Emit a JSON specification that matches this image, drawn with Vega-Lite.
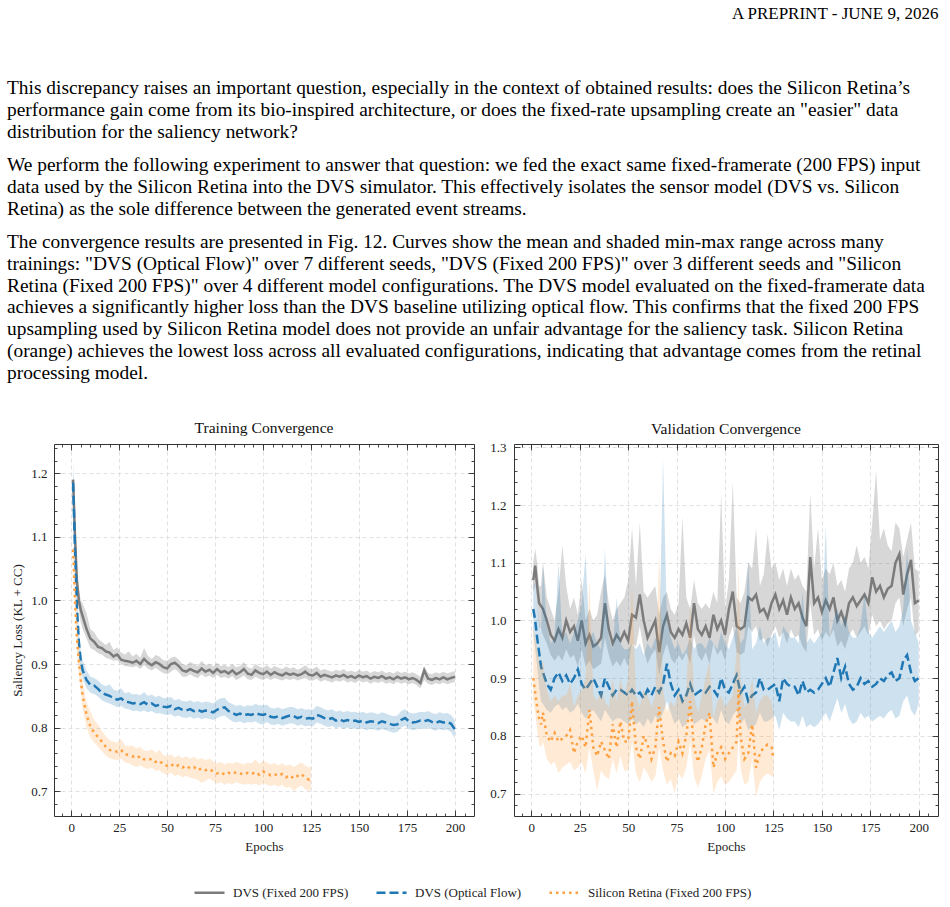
{
"$schema": "https://vega.github.io/schema/vega-lite/v6.json",
"padding": {"left": 7, "right": 10, "top": 5, "bottom": 5},
"background": "white",
"title": {"text": "A PREPRINT - JUNE 9, 2026", "anchor": "end", "fontSize": 17, "font": "Liberation Serif", "fontWeight": "normal", "color": "#000", "offset": 55},
"config": {
  "view": {"stroke": null},
  "title": {"font": "Liberation Serif", "fontWeight": "normal", "color": "#111"},
  "axis": {"labelFont": "Liberation Serif", "titleFont": "Liberation Serif", "labelFontSize": 13, "titleFontSize": 13, "titleFontWeight": "normal", "labelColor": "#222", "titleColor": "#222", "domainColor": "#333", "tickColor": "#333", "gridColor": "#d4d4d4", "gridDash": [4, 3], "gridWidth": 0.7, "domainWidth": 1, "tickWidth": 0.9, "labelFlush": false, "labelOverlap": false},
  "legend": {"orient": "bottom", "direction": "horizontal", "labelFont": "Liberation Serif", "labelFontSize": 13, "labelColor": "#222", "labelLimit": 400, "symbolType": "stroke", "symbolSize": 900, "symbolStrokeWidth": 2.5, "symbolOpacity": 1, "labelOffset": 7, "columnPadding": 22, "offset": 23, "layout": {"bottom": {"anchor": "middle"}}}
},
"datasets": {
"names": [{"s": "g", "name": "DVS (Fixed 200 FPS)"}, {"s": "b", "name": "DVS (Optical Flow)"}, {"s": "o", "name": "Silicon Retina (Fixed 200 FPS)"}],
"tr": [
{"s":"g","e":1,"m":1.19,"l":1.175,"h":1.205},{"s":"g","e":2,"m":1.1,"l":1.08,"h":1.12},{"s":"g","e":3,"m":1.03,"l":1.01,"h":1.05},{"s":"g","e":4,"m":1.0,"l":0.985,"h":1.02},{"s":"g","e":5,"m":0.985,"l":0.965,"h":1.0},{"s":"g","e":6,"m":0.975,"l":0.955,"h":0.995},{"s":"g","e":8,"m":0.955,"l":0.94,"h":0.98},{"s":"g","e":10,"m":0.94,"l":0.925,"h":0.955},{"s":"g","e":12,"m":0.935,"l":0.922,"h":0.95},{"s":"g","e":14,"m":0.927,"l":0.917,"h":0.94},{"s":"g","e":16,"m":0.925,"l":0.915,"h":0.935},{"s":"g","e":18,"m":0.92,"l":0.91,"h":0.93},{"s":"g","e":20,"m":0.918,"l":0.908,"h":0.935},{"s":"g","e":22,"m":0.912,"l":0.905,"h":0.922},{"s":"g","e":24,"m":0.915,"l":0.906,"h":0.926},{"s":"g","e":26,"m":0.907,"l":0.9,"h":0.918},{"s":"g","e":28,"m":0.905,"l":0.897,"h":0.915},{"s":"g","e":30,"m":0.904,"l":0.896,"h":0.92},{"s":"g","e":32,"m":0.902,"l":0.895,"h":0.912},{"s":"g","e":34,"m":0.905,"l":0.897,"h":0.916},{"s":"g","e":36,"m":0.9,"l":0.892,"h":0.91},{"s":"g","e":38,"m":0.908,"l":0.898,"h":0.925},{"s":"g","e":40,"m":0.902,"l":0.893,"h":0.913},{"s":"g","e":42,"m":0.898,"l":0.89,"h":0.908},{"s":"g","e":44,"m":0.903,"l":0.894,"h":0.914},{"s":"g","e":46,"m":0.9,"l":0.89,"h":0.912},{"s":"g","e":48,"m":0.895,"l":0.886,"h":0.906},{"s":"g","e":50,"m":0.893,"l":0.884,"h":0.905},{"s":"g","e":52,"m":0.9,"l":0.888,"h":0.91},{"s":"g","e":54,"m":0.902,"l":0.892,"h":0.912},{"s":"g","e":56,"m":0.897,"l":0.887,"h":0.907},{"s":"g","e":58,"m":0.89,"l":0.88,"h":0.9},{"s":"g","e":60,"m":0.888,"l":0.88,"h":0.898},{"s":"g","e":62,"m":0.892,"l":0.884,"h":0.903},{"s":"g","e":64,"m":0.889,"l":0.88,"h":0.9},{"s":"g","e":66,"m":0.887,"l":0.878,"h":0.897},{"s":"g","e":68,"m":0.893,"l":0.884,"h":0.905},{"s":"g","e":70,"m":0.888,"l":0.879,"h":0.898},{"s":"g","e":72,"m":0.891,"l":0.882,"h":0.901},{"s":"g","e":74,"m":0.886,"l":0.878,"h":0.896},{"s":"g","e":76,"m":0.892,"l":0.883,"h":0.902},{"s":"g","e":78,"m":0.887,"l":0.878,"h":0.897},{"s":"g","e":80,"m":0.889,"l":0.88,"h":0.899},{"s":"g","e":82,"m":0.885,"l":0.877,"h":0.895},{"s":"g","e":84,"m":0.89,"l":0.881,"h":0.9},{"s":"g","e":86,"m":0.884,"l":0.875,"h":0.895},{"s":"g","e":88,"m":0.887,"l":0.878,"h":0.897},{"s":"g","e":90,"m":0.892,"l":0.882,"h":0.903},{"s":"g","e":92,"m":0.885,"l":0.876,"h":0.895},{"s":"g","e":94,"m":0.883,"l":0.875,"h":0.893},{"s":"g","e":96,"m":0.89,"l":0.88,"h":0.9},{"s":"g","e":98,"m":0.886,"l":0.877,"h":0.896},{"s":"g","e":100,"m":0.884,"l":0.875,"h":0.894},{"s":"g","e":102,"m":0.888,"l":0.878,"h":0.898},{"s":"g","e":104,"m":0.883,"l":0.875,"h":0.893},{"s":"g","e":106,"m":0.887,"l":0.878,"h":0.897},{"s":"g","e":108,"m":0.884,"l":0.876,"h":0.894},{"s":"g","e":110,"m":0.882,"l":0.874,"h":0.892},{"s":"g","e":112,"m":0.886,"l":0.877,"h":0.896},{"s":"g","e":114,"m":0.883,"l":0.875,"h":0.893},{"s":"g","e":116,"m":0.885,"l":0.877,"h":0.895},{"s":"g","e":118,"m":0.882,"l":0.874,"h":0.891},{"s":"g","e":120,"m":0.884,"l":0.876,"h":0.894},{"s":"g","e":122,"m":0.888,"l":0.878,"h":0.898},{"s":"g","e":124,"m":0.883,"l":0.874,"h":0.893},{"s":"g","e":126,"m":0.882,"l":0.874,"h":0.892},{"s":"g","e":128,"m":0.886,"l":0.877,"h":0.896},{"s":"g","e":130,"m":0.88,"l":0.872,"h":0.89},{"s":"g","e":132,"m":0.883,"l":0.875,"h":0.892},{"s":"g","e":134,"m":0.881,"l":0.873,"h":0.89},{"s":"g","e":136,"m":0.879,"l":0.871,"h":0.888},{"s":"g","e":138,"m":0.882,"l":0.874,"h":0.891},{"s":"g","e":140,"m":0.88,"l":0.872,"h":0.889},{"s":"g","e":142,"m":0.883,"l":0.875,"h":0.892},{"s":"g","e":144,"m":0.879,"l":0.871,"h":0.888},{"s":"g","e":146,"m":0.881,"l":0.873,"h":0.89},{"s":"g","e":148,"m":0.878,"l":0.87,"h":0.887},{"s":"g","e":150,"m":0.882,"l":0.874,"h":0.891},{"s":"g","e":152,"m":0.879,"l":0.871,"h":0.888},{"s":"g","e":154,"m":0.881,"l":0.873,"h":0.89},{"s":"g","e":156,"m":0.877,"l":0.869,"h":0.886},{"s":"g","e":158,"m":0.88,"l":0.872,"h":0.889},{"s":"g","e":160,"m":0.878,"l":0.87,"h":0.887},{"s":"g","e":162,"m":0.881,"l":0.873,"h":0.89},{"s":"g","e":164,"m":0.877,"l":0.869,"h":0.886},{"s":"g","e":166,"m":0.879,"l":0.871,"h":0.888},{"s":"g","e":168,"m":0.876,"l":0.868,"h":0.885},{"s":"g","e":170,"m":0.88,"l":0.872,"h":0.889},{"s":"g","e":172,"m":0.877,"l":0.869,"h":0.886},{"s":"g","e":174,"m":0.879,"l":0.871,"h":0.888},{"s":"g","e":176,"m":0.876,"l":0.868,"h":0.885},{"s":"g","e":178,"m":0.878,"l":0.87,"h":0.887},{"s":"g","e":180,"m":0.875,"l":0.867,"h":0.884},{"s":"g","e":182,"m":0.87,"l":0.862,"h":0.88},{"s":"g","e":184,"m":0.89,"l":0.875,"h":0.897},{"s":"g","e":186,"m":0.877,"l":0.869,"h":0.886},{"s":"g","e":188,"m":0.875,"l":0.867,"h":0.884},{"s":"g","e":190,"m":0.878,"l":0.87,"h":0.887},{"s":"g","e":192,"m":0.876,"l":0.868,"h":0.885},{"s":"g","e":194,"m":0.879,"l":0.871,"h":0.888},{"s":"g","e":196,"m":0.876,"l":0.868,"h":0.885},{"s":"g","e":198,"m":0.878,"l":0.87,"h":0.887},{"s":"g","e":200,"m":0.88,"l":0.872,"h":0.889},
{"s":"b","e":1,"m":1.185,"l":1.15,"h":1.22},{"s":"b","e":2,"m":1.08,"l":1.05,"h":1.11},{"s":"b","e":3,"m":0.99,"l":0.97,"h":1.01},{"s":"b","e":4,"m":0.935,"l":0.92,"h":0.955},{"s":"b","e":5,"m":0.905,"l":0.89,"h":0.92},{"s":"b","e":6,"m":0.89,"l":0.877,"h":0.905},{"s":"b","e":8,"m":0.875,"l":0.862,"h":0.89},{"s":"b","e":10,"m":0.867,"l":0.855,"h":0.88},{"s":"b","e":12,"m":0.866,"l":0.853,"h":0.878},{"s":"b","e":14,"m":0.861,"l":0.849,"h":0.874},{"s":"b","e":16,"m":0.855,"l":0.843,"h":0.868},{"s":"b","e":18,"m":0.852,"l":0.84,"h":0.865},{"s":"b","e":20,"m":0.85,"l":0.838,"h":0.868},{"s":"b","e":22,"m":0.846,"l":0.835,"h":0.86},{"s":"b","e":24,"m":0.844,"l":0.832,"h":0.858},{"s":"b","e":26,"m":0.846,"l":0.834,"h":0.862},{"s":"b","e":28,"m":0.841,"l":0.83,"h":0.854},{"s":"b","e":30,"m":0.84,"l":0.829,"h":0.856},{"s":"b","e":32,"m":0.838,"l":0.826,"h":0.852},{"s":"b","e":34,"m":0.839,"l":0.827,"h":0.853},{"s":"b","e":36,"m":0.837,"l":0.825,"h":0.851},{"s":"b","e":38,"m":0.84,"l":0.827,"h":0.856},{"s":"b","e":40,"m":0.836,"l":0.824,"h":0.85},{"s":"b","e":42,"m":0.838,"l":0.826,"h":0.852},{"s":"b","e":44,"m":0.834,"l":0.822,"h":0.848},{"s":"b","e":46,"m":0.836,"l":0.823,"h":0.85},{"s":"b","e":48,"m":0.833,"l":0.821,"h":0.846},{"s":"b","e":50,"m":0.832,"l":0.82,"h":0.847},{"s":"b","e":52,"m":0.834,"l":0.821,"h":0.848},{"s":"b","e":54,"m":0.829,"l":0.817,"h":0.843},{"s":"b","e":56,"m":0.831,"l":0.819,"h":0.845},{"s":"b","e":58,"m":0.828,"l":0.816,"h":0.842},{"s":"b","e":60,"m":0.827,"l":0.815,"h":0.841},{"s":"b","e":62,"m":0.829,"l":0.817,"h":0.843},{"s":"b","e":64,"m":0.826,"l":0.814,"h":0.84},{"s":"b","e":66,"m":0.828,"l":0.816,"h":0.842},{"s":"b","e":68,"m":0.825,"l":0.813,"h":0.839},{"s":"b","e":70,"m":0.827,"l":0.815,"h":0.841},{"s":"b","e":72,"m":0.826,"l":0.814,"h":0.84},{"s":"b","e":74,"m":0.824,"l":0.812,"h":0.838},{"s":"b","e":76,"m":0.828,"l":0.815,"h":0.843},{"s":"b","e":78,"m":0.831,"l":0.818,"h":0.846},{"s":"b","e":80,"m":0.832,"l":0.819,"h":0.847},{"s":"b","e":82,"m":0.826,"l":0.814,"h":0.84},{"s":"b","e":84,"m":0.823,"l":0.81,"h":0.837},{"s":"b","e":86,"m":0.82,"l":0.808,"h":0.834},{"s":"b","e":88,"m":0.822,"l":0.81,"h":0.836},{"s":"b","e":90,"m":0.819,"l":0.807,"h":0.833},{"s":"b","e":92,"m":0.821,"l":0.809,"h":0.835},{"s":"b","e":94,"m":0.82,"l":0.808,"h":0.834},{"s":"b","e":96,"m":0.823,"l":0.81,"h":0.837},{"s":"b","e":98,"m":0.821,"l":0.806,"h":0.835},{"s":"b","e":100,"m":0.82,"l":0.805,"h":0.835},{"s":"b","e":102,"m":0.822,"l":0.809,"h":0.836},{"s":"b","e":104,"m":0.817,"l":0.805,"h":0.831},{"s":"b","e":106,"m":0.816,"l":0.804,"h":0.83},{"s":"b","e":108,"m":0.818,"l":0.806,"h":0.832},{"s":"b","e":110,"m":0.815,"l":0.803,"h":0.829},{"s":"b","e":112,"m":0.817,"l":0.805,"h":0.831},{"s":"b","e":114,"m":0.819,"l":0.807,"h":0.833},{"s":"b","e":116,"m":0.818,"l":0.806,"h":0.832},{"s":"b","e":118,"m":0.815,"l":0.803,"h":0.829},{"s":"b","e":120,"m":0.817,"l":0.805,"h":0.831},{"s":"b","e":122,"m":0.814,"l":0.802,"h":0.828},{"s":"b","e":124,"m":0.815,"l":0.803,"h":0.829},{"s":"b","e":126,"m":0.814,"l":0.802,"h":0.828},{"s":"b","e":128,"m":0.82,"l":0.808,"h":0.834},{"s":"b","e":130,"m":0.818,"l":0.806,"h":0.832},{"s":"b","e":132,"m":0.815,"l":0.803,"h":0.829},{"s":"b","e":134,"m":0.813,"l":0.801,"h":0.827},{"s":"b","e":136,"m":0.815,"l":0.803,"h":0.829},{"s":"b","e":138,"m":0.811,"l":0.799,"h":0.825},{"s":"b","e":140,"m":0.813,"l":0.801,"h":0.827},{"s":"b","e":142,"m":0.81,"l":0.798,"h":0.824},{"s":"b","e":144,"m":0.812,"l":0.8,"h":0.826},{"s":"b","e":146,"m":0.81,"l":0.798,"h":0.824},{"s":"b","e":148,"m":0.811,"l":0.799,"h":0.825},{"s":"b","e":150,"m":0.809,"l":0.797,"h":0.823},{"s":"b","e":152,"m":0.811,"l":0.799,"h":0.825},{"s":"b","e":154,"m":0.808,"l":0.796,"h":0.822},{"s":"b","e":156,"m":0.81,"l":0.798,"h":0.824},{"s":"b","e":158,"m":0.809,"l":0.797,"h":0.823},{"s":"b","e":160,"m":0.807,"l":0.795,"h":0.821},{"s":"b","e":162,"m":0.81,"l":0.798,"h":0.824},{"s":"b","e":164,"m":0.808,"l":0.796,"h":0.822},{"s":"b","e":166,"m":0.806,"l":0.794,"h":0.82},{"s":"b","e":168,"m":0.804,"l":0.792,"h":0.818},{"s":"b","e":170,"m":0.805,"l":0.793,"h":0.819},{"s":"b","e":172,"m":0.812,"l":0.8,"h":0.826},{"s":"b","e":174,"m":0.815,"l":0.803,"h":0.829},{"s":"b","e":176,"m":0.81,"l":0.798,"h":0.824},{"s":"b","e":178,"m":0.808,"l":0.796,"h":0.822},{"s":"b","e":180,"m":0.809,"l":0.797,"h":0.823},{"s":"b","e":182,"m":0.811,"l":0.799,"h":0.825},{"s":"b","e":184,"m":0.81,"l":0.798,"h":0.824},{"s":"b","e":186,"m":0.812,"l":0.8,"h":0.826},{"s":"b","e":188,"m":0.809,"l":0.797,"h":0.823},{"s":"b","e":190,"m":0.807,"l":0.795,"h":0.821},{"s":"b","e":192,"m":0.81,"l":0.798,"h":0.824},{"s":"b","e":194,"m":0.808,"l":0.796,"h":0.822},{"s":"b","e":196,"m":0.809,"l":0.797,"h":0.823},{"s":"b","e":198,"m":0.806,"l":0.793,"h":0.82},{"s":"b","e":200,"m":0.797,"l":0.783,"h":0.812},
{"s":"o","e":1,"m":1.08,"l":1.06,"h":1.1},{"s":"o","e":2,"m":1.0,"l":0.98,"h":1.02},{"s":"o","e":3,"m":0.94,"l":0.92,"h":0.96},{"s":"o","e":4,"m":0.905,"l":0.885,"h":0.925},{"s":"o","e":5,"m":0.875,"l":0.855,"h":0.895},{"s":"o","e":6,"m":0.85,"l":0.83,"h":0.87},{"s":"o","e":8,"m":0.82,"l":0.8,"h":0.84},{"s":"o","e":10,"m":0.802,"l":0.785,"h":0.825},{"s":"o","e":12,"m":0.792,"l":0.776,"h":0.812},{"s":"o","e":14,"m":0.785,"l":0.77,"h":0.805},{"s":"o","e":16,"m":0.778,"l":0.763,"h":0.795},{"s":"o","e":18,"m":0.77,"l":0.756,"h":0.787},{"s":"o","e":20,"m":0.765,"l":0.752,"h":0.78},{"s":"o","e":22,"m":0.764,"l":0.75,"h":0.778},{"s":"o","e":24,"m":0.762,"l":0.749,"h":0.776},{"s":"o","e":26,"m":0.765,"l":0.751,"h":0.782},{"s":"o","e":28,"m":0.758,"l":0.745,"h":0.772},{"s":"o","e":30,"m":0.757,"l":0.744,"h":0.771},{"s":"o","e":32,"m":0.755,"l":0.741,"h":0.772},{"s":"o","e":34,"m":0.752,"l":0.738,"h":0.767},{"s":"o","e":36,"m":0.755,"l":0.741,"h":0.77},{"s":"o","e":38,"m":0.75,"l":0.737,"h":0.764},{"s":"o","e":40,"m":0.749,"l":0.735,"h":0.763},{"s":"o","e":42,"m":0.751,"l":0.737,"h":0.766},{"s":"o","e":44,"m":0.746,"l":0.732,"h":0.76},{"s":"o","e":46,"m":0.748,"l":0.733,"h":0.765},{"s":"o","e":48,"m":0.742,"l":0.728,"h":0.757},{"s":"o","e":50,"m":0.74,"l":0.726,"h":0.755},{"s":"o","e":52,"m":0.743,"l":0.729,"h":0.758},{"s":"o","e":54,"m":0.738,"l":0.724,"h":0.753},{"s":"o","e":56,"m":0.741,"l":0.726,"h":0.756},{"s":"o","e":58,"m":0.737,"l":0.722,"h":0.752},{"s":"o","e":60,"m":0.74,"l":0.724,"h":0.755},{"s":"o","e":62,"m":0.736,"l":0.721,"h":0.751},{"s":"o","e":64,"m":0.738,"l":0.72,"h":0.754},{"s":"o","e":66,"m":0.733,"l":0.718,"h":0.75},{"s":"o","e":68,"m":0.736,"l":0.713,"h":0.752},{"s":"o","e":70,"m":0.733,"l":0.716,"h":0.749},{"s":"o","e":72,"m":0.735,"l":0.72,"h":0.751},{"s":"o","e":74,"m":0.731,"l":0.716,"h":0.747},{"s":"o","e":76,"m":0.728,"l":0.712,"h":0.744},{"s":"o","e":78,"m":0.73,"l":0.714,"h":0.746},{"s":"o","e":80,"m":0.726,"l":0.71,"h":0.742},{"s":"o","e":82,"m":0.729,"l":0.713,"h":0.745},{"s":"o","e":84,"m":0.727,"l":0.711,"h":0.743},{"s":"o","e":86,"m":0.73,"l":0.714,"h":0.746},{"s":"o","e":88,"m":0.728,"l":0.712,"h":0.744},{"s":"o","e":90,"m":0.726,"l":0.71,"h":0.742},{"s":"o","e":92,"m":0.729,"l":0.712,"h":0.745},{"s":"o","e":94,"m":0.727,"l":0.71,"h":0.744},{"s":"o","e":96,"m":0.73,"l":0.712,"h":0.75},{"s":"o","e":98,"m":0.726,"l":0.709,"h":0.743},{"s":"o","e":100,"m":0.731,"l":0.713,"h":0.748},{"s":"o","e":102,"m":0.728,"l":0.71,"h":0.745},{"s":"o","e":104,"m":0.725,"l":0.708,"h":0.742},{"s":"o","e":106,"m":0.727,"l":0.71,"h":0.744},{"s":"o","e":108,"m":0.724,"l":0.707,"h":0.741},{"s":"o","e":110,"m":0.727,"l":0.71,"h":0.744},{"s":"o","e":112,"m":0.722,"l":0.705,"h":0.74},{"s":"o","e":114,"m":0.725,"l":0.707,"h":0.742},{"s":"o","e":116,"m":0.72,"l":0.7,"h":0.738},{"s":"o","e":118,"m":0.724,"l":0.706,"h":0.742},{"s":"o","e":120,"m":0.727,"l":0.709,"h":0.745},{"s":"o","e":122,"m":0.721,"l":0.703,"h":0.74},{"s":"o","e":124,"m":0.718,"l":0.7,"h":0.737},{"s":"o","e":125,"m":0.722,"l":0.704,"h":0.74}
],
"va": [
{"s":"g","e":1,"m":1.07,"l":1.05,"h":1.1},{"s":"g","e":2,"m":1.095,"l":1.06,"h":1.125},{"s":"g","e":3,"m":1.06,"l":1.03,"h":1.1},{"s":"g","e":4,"m":1.03,"l":0.99,"h":1.06},{"s":"g","e":5,"m":1.025,"l":0.985,"h":1.06},{"s":"g","e":6,"m":1.02,"l":0.975,"h":1.1},{"s":"g","e":8,"m":1.0,"l":0.96,"h":1.04},{"s":"g","e":10,"m":0.975,"l":0.94,"h":1.02},{"s":"g","e":12,"m":0.965,"l":0.93,"h":1.0},{"s":"g","e":14,"m":0.985,"l":0.94,"h":1.05},{"s":"g","e":16,"m":0.97,"l":0.93,"h":1.13},{"s":"g","e":18,"m":1.0,"l":0.95,"h":1.06},{"s":"g","e":20,"m":0.98,"l":0.935,"h":1.02},{"s":"g","e":22,"m":0.99,"l":0.94,"h":1.04},{"s":"g","e":24,"m":0.965,"l":0.92,"h":1.01},{"s":"g","e":26,"m":1.0,"l":0.95,"h":1.07},{"s":"g","e":28,"m":0.96,"l":0.92,"h":1.0},{"s":"g","e":30,"m":0.975,"l":0.93,"h":1.02},{"s":"g","e":32,"m":0.955,"l":0.915,"h":1.0},{"s":"g","e":34,"m":0.96,"l":0.92,"h":1.01},{"s":"g","e":36,"m":0.97,"l":0.925,"h":1.05},{"s":"g","e":38,"m":1.03,"l":0.97,"h":1.08},{"s":"g","e":40,"m":0.985,"l":0.94,"h":1.03},{"s":"g","e":42,"m":0.96,"l":0.92,"h":1.0},{"s":"g","e":44,"m":0.975,"l":0.93,"h":1.02},{"s":"g","e":46,"m":0.965,"l":0.92,"h":1.03},{"s":"g","e":48,"m":0.98,"l":0.935,"h":1.04},{"s":"g","e":50,"m":0.965,"l":0.92,"h":1.07},{"s":"g","e":52,"m":1.01,"l":0.96,"h":1.16},{"s":"g","e":54,"m":1.005,"l":0.955,"h":1.06},{"s":"g","e":56,"m":1.045,"l":0.99,"h":1.17},{"s":"g","e":58,"m":1.0,"l":0.95,"h":1.05},{"s":"g","e":60,"m":0.97,"l":0.925,"h":1.04},{"s":"g","e":62,"m":0.985,"l":0.94,"h":1.05},{"s":"g","e":64,"m":1.0,"l":0.95,"h":1.06},{"s":"g","e":66,"m":0.945,"l":0.905,"h":1.01},{"s":"g","e":68,"m":0.99,"l":0.94,"h":1.04},{"s":"g","e":70,"m":1.01,"l":0.96,"h":1.05},{"s":"g","e":72,"m":0.98,"l":0.935,"h":1.02},{"s":"g","e":74,"m":0.97,"l":0.925,"h":1.01},{"s":"g","e":76,"m":0.985,"l":0.94,"h":1.03},{"s":"g","e":78,"m":0.975,"l":0.93,"h":1.18},{"s":"g","e":80,"m":0.995,"l":0.945,"h":1.04},{"s":"g","e":82,"m":0.97,"l":0.925,"h":1.02},{"s":"g","e":84,"m":1.03,"l":0.975,"h":1.07},{"s":"g","e":86,"m":0.985,"l":0.94,"h":1.03},{"s":"g","e":88,"m":0.975,"l":0.93,"h":1.02},{"s":"g","e":90,"m":0.99,"l":0.945,"h":1.03},{"s":"g","e":92,"m":0.97,"l":0.925,"h":1.02},{"s":"g","e":94,"m":1.01,"l":0.96,"h":1.05},{"s":"g","e":96,"m":0.985,"l":0.94,"h":1.03},{"s":"g","e":98,"m":1.0,"l":0.95,"h":1.22},{"s":"g","e":100,"m":0.975,"l":0.93,"h":1.02},{"s":"g","e":102,"m":1.02,"l":0.97,"h":1.07},{"s":"g","e":104,"m":1.05,"l":0.99,"h":1.24},{"s":"g","e":106,"m":0.99,"l":0.945,"h":1.04},{"s":"g","e":108,"m":0.985,"l":0.94,"h":1.03},{"s":"g","e":110,"m":0.99,"l":0.945,"h":1.05},{"s":"g","e":112,"m":1.04,"l":0.99,"h":1.1},{"s":"g","e":114,"m":1.035,"l":0.98,"h":1.09},{"s":"g","e":116,"m":1.045,"l":0.99,"h":1.16},{"s":"g","e":118,"m":1.015,"l":0.965,"h":1.06},{"s":"g","e":120,"m":1.02,"l":0.97,"h":1.08},{"s":"g","e":122,"m":1.005,"l":0.955,"h":1.15},{"s":"g","e":124,"m":1.03,"l":0.975,"h":1.09},{"s":"g","e":126,"m":1.045,"l":0.99,"h":1.1},{"s":"g","e":128,"m":1.02,"l":0.97,"h":1.07},{"s":"g","e":130,"m":1.035,"l":0.98,"h":1.09},{"s":"g","e":132,"m":1.01,"l":0.96,"h":1.06},{"s":"g","e":134,"m":1.04,"l":0.985,"h":1.09},{"s":"g","e":136,"m":1.02,"l":0.97,"h":1.07},{"s":"g","e":138,"m":1.03,"l":0.975,"h":1.08},{"s":"g","e":140,"m":1.005,"l":0.955,"h":1.06},{"s":"g","e":142,"m":0.99,"l":0.945,"h":1.05},{"s":"g","e":144,"m":1.11,"l":1.03,"h":1.22},{"s":"g","e":146,"m":1.03,"l":0.975,"h":1.09},{"s":"g","e":148,"m":1.04,"l":0.985,"h":1.16},{"s":"g","e":150,"m":1.015,"l":0.965,"h":1.07},{"s":"g","e":152,"m":1.035,"l":0.98,"h":1.09},{"s":"g","e":154,"m":1.02,"l":0.97,"h":1.08},{"s":"g","e":156,"m":1.04,"l":0.985,"h":1.1},{"s":"g","e":158,"m":1.0,"l":0.955,"h":1.06},{"s":"g","e":160,"m":1.015,"l":0.965,"h":1.07},{"s":"g","e":162,"m":0.995,"l":0.95,"h":1.05},{"s":"g","e":164,"m":1.03,"l":0.975,"h":1.09},{"s":"g","e":166,"m":1.04,"l":0.985,"h":1.1},{"s":"g","e":168,"m":1.025,"l":0.97,"h":1.13},{"s":"g","e":170,"m":1.035,"l":0.98,"h":1.1},{"s":"g","e":172,"m":1.045,"l":0.99,"h":1.11},{"s":"g","e":174,"m":1.03,"l":0.975,"h":1.09},{"s":"g","e":176,"m":1.075,"l":1.01,"h":1.17},{"s":"g","e":178,"m":1.05,"l":0.99,"h":1.26},{"s":"g","e":180,"m":1.06,"l":1.0,"h":1.14},{"s":"g","e":182,"m":1.04,"l":0.985,"h":1.16},{"s":"g","e":184,"m":1.055,"l":0.995,"h":1.13},{"s":"g","e":186,"m":1.06,"l":1.0,"h":1.12},{"s":"g","e":188,"m":1.1,"l":1.03,"h":1.17},{"s":"g","e":190,"m":1.115,"l":1.04,"h":1.16},{"s":"g","e":192,"m":1.045,"l":0.99,"h":1.11},{"s":"g","e":194,"m":1.08,"l":1.02,"h":1.14},{"s":"g","e":196,"m":1.105,"l":1.04,"h":1.17},{"s":"g","e":198,"m":1.03,"l":0.975,"h":1.09},{"s":"g","e":200,"m":1.035,"l":0.98,"h":1.085},
{"s":"b","e":1,"m":1.02,"l":0.98,"h":1.07},{"s":"b","e":2,"m":1.0,"l":0.95,"h":1.06},{"s":"b","e":3,"m":0.97,"l":0.92,"h":1.03},{"s":"b","e":4,"m":0.945,"l":0.885,"h":1.0},{"s":"b","e":5,"m":0.92,"l":0.86,"h":0.98},{"s":"b","e":6,"m":0.91,"l":0.855,"h":1.1},{"s":"b","e":8,"m":0.89,"l":0.845,"h":0.99},{"s":"b","e":10,"m":0.88,"l":0.84,"h":0.96},{"s":"b","e":12,"m":0.9,"l":0.85,"h":0.97},{"s":"b","e":14,"m":0.91,"l":0.855,"h":1.1},{"s":"b","e":16,"m":0.895,"l":0.845,"h":0.97},{"s":"b","e":18,"m":0.905,"l":0.85,"h":0.98},{"s":"b","e":20,"m":0.89,"l":0.84,"h":0.96},{"s":"b","e":22,"m":0.9,"l":0.845,"h":0.98},{"s":"b","e":24,"m":0.915,"l":0.855,"h":1.0},{"s":"b","e":26,"m":0.89,"l":0.84,"h":1.03},{"s":"b","e":28,"m":0.88,"l":0.83,"h":1.115},{"s":"b","e":30,"m":0.89,"l":0.84,"h":0.97},{"s":"b","e":32,"m":0.9,"l":0.845,"h":0.98},{"s":"b","e":34,"m":0.885,"l":0.835,"h":0.96},{"s":"b","e":36,"m":0.87,"l":0.825,"h":0.95},{"s":"b","e":38,"m":0.9,"l":0.845,"h":1.125},{"s":"b","e":40,"m":0.885,"l":0.835,"h":0.97},{"s":"b","e":42,"m":0.87,"l":0.825,"h":0.95},{"s":"b","e":44,"m":0.88,"l":0.83,"h":1.04},{"s":"b","e":46,"m":0.88,"l":0.83,"h":0.96},{"s":"b","e":48,"m":0.875,"l":0.825,"h":0.95},{"s":"b","e":50,"m":0.87,"l":0.82,"h":0.95},{"s":"b","e":52,"m":0.88,"l":0.83,"h":0.96},{"s":"b","e":54,"m":0.87,"l":0.82,"h":0.95},{"s":"b","e":56,"m":0.875,"l":0.825,"h":0.96},{"s":"b","e":58,"m":0.865,"l":0.815,"h":0.94},{"s":"b","e":60,"m":0.88,"l":0.83,"h":0.96},{"s":"b","e":62,"m":0.87,"l":0.82,"h":0.95},{"s":"b","e":64,"m":0.885,"l":0.835,"h":0.97},{"s":"b","e":66,"m":0.875,"l":0.825,"h":0.96},{"s":"b","e":68,"m":0.89,"l":0.84,"h":1.28},{"s":"b","e":70,"m":0.925,"l":0.86,"h":1.0},{"s":"b","e":72,"m":0.89,"l":0.84,"h":0.97},{"s":"b","e":74,"m":0.87,"l":0.82,"h":0.95},{"s":"b","e":76,"m":0.88,"l":0.83,"h":0.96},{"s":"b","e":78,"m":0.86,"l":0.815,"h":0.94},{"s":"b","e":80,"m":0.87,"l":0.82,"h":0.95},{"s":"b","e":82,"m":0.89,"l":0.835,"h":0.97},{"s":"b","e":84,"m":0.87,"l":0.82,"h":0.95},{"s":"b","e":86,"m":0.875,"l":0.825,"h":0.96},{"s":"b","e":88,"m":0.88,"l":0.83,"h":0.96},{"s":"b","e":90,"m":0.875,"l":0.825,"h":0.95},{"s":"b","e":92,"m":0.885,"l":0.835,"h":0.97},{"s":"b","e":94,"m":0.88,"l":0.83,"h":0.96},{"s":"b","e":96,"m":0.87,"l":0.82,"h":0.95},{"s":"b","e":98,"m":0.9,"l":0.845,"h":0.98},{"s":"b","e":100,"m":0.88,"l":0.825,"h":0.96},{"s":"b","e":102,"m":0.875,"l":0.82,"h":0.95},{"s":"b","e":104,"m":0.89,"l":0.835,"h":0.97},{"s":"b","e":106,"m":0.905,"l":0.845,"h":0.99},{"s":"b","e":108,"m":0.875,"l":0.82,"h":0.96},{"s":"b","e":110,"m":0.885,"l":0.83,"h":0.97},{"s":"b","e":112,"m":0.86,"l":0.81,"h":1.105},{"s":"b","e":114,"m":0.87,"l":0.815,"h":0.95},{"s":"b","e":116,"m":0.875,"l":0.82,"h":0.96},{"s":"b","e":118,"m":0.9,"l":0.84,"h":0.99},{"s":"b","e":120,"m":0.88,"l":0.825,"h":0.96},{"s":"b","e":122,"m":0.88,"l":0.825,"h":0.97},{"s":"b","e":124,"m":0.885,"l":0.83,"h":0.97},{"s":"b","e":126,"m":0.89,"l":0.835,"h":0.98},{"s":"b","e":128,"m":0.86,"l":0.81,"h":0.95},{"s":"b","e":130,"m":0.9,"l":0.84,"h":0.99},{"s":"b","e":132,"m":0.89,"l":0.83,"h":0.98},{"s":"b","e":134,"m":0.885,"l":0.825,"h":0.97},{"s":"b","e":136,"m":0.885,"l":0.825,"h":0.97},{"s":"b","e":138,"m":0.87,"l":0.815,"h":0.96},{"s":"b","e":140,"m":0.895,"l":0.835,"h":1.05},{"s":"b","e":142,"m":0.875,"l":0.815,"h":0.96},{"s":"b","e":144,"m":0.88,"l":0.82,"h":0.97},{"s":"b","e":146,"m":0.875,"l":0.815,"h":0.96},{"s":"b","e":148,"m":0.88,"l":0.82,"h":0.97},{"s":"b","e":150,"m":0.89,"l":0.83,"h":0.98},{"s":"b","e":152,"m":0.9,"l":0.84,"h":1.165},{"s":"b","e":154,"m":0.885,"l":0.825,"h":0.97},{"s":"b","e":156,"m":0.91,"l":0.845,"h":1.0},{"s":"b","e":158,"m":0.935,"l":0.865,"h":1.02},{"s":"b","e":160,"m":0.9,"l":0.84,"h":0.99},{"s":"b","e":162,"m":0.92,"l":0.855,"h":1.01},{"s":"b","e":164,"m":0.89,"l":0.83,"h":0.98},{"s":"b","e":166,"m":0.88,"l":0.82,"h":0.97},{"s":"b","e":168,"m":0.885,"l":0.825,"h":0.97},{"s":"b","e":170,"m":0.9,"l":0.84,"h":0.99},{"s":"b","e":172,"m":0.89,"l":0.83,"h":1.05},{"s":"b","e":174,"m":0.895,"l":0.835,"h":0.98},{"s":"b","e":176,"m":0.885,"l":0.825,"h":0.97},{"s":"b","e":178,"m":0.89,"l":0.83,"h":0.98},{"s":"b","e":180,"m":0.9,"l":0.835,"h":0.99},{"s":"b","e":182,"m":0.895,"l":0.83,"h":0.98},{"s":"b","e":184,"m":0.905,"l":0.84,"h":0.99},{"s":"b","e":186,"m":0.91,"l":0.845,"h":1.0},{"s":"b","e":188,"m":0.895,"l":0.83,"h":0.98},{"s":"b","e":190,"m":0.9,"l":0.835,"h":0.99},{"s":"b","e":192,"m":0.93,"l":0.86,"h":1.02},{"s":"b","e":194,"m":0.94,"l":0.87,"h":1.125},{"s":"b","e":196,"m":0.91,"l":0.845,"h":1.0},{"s":"b","e":198,"m":0.895,"l":0.835,"h":0.98},{"s":"b","e":200,"m":0.9,"l":0.855,"h":0.96},
{"s":"o","e":1,"m":0.9,"l":0.86,"h":0.99},{"s":"o","e":2,"m":0.875,"l":0.84,"h":0.97},{"s":"o","e":3,"m":0.85,"l":0.81,"h":0.95},{"s":"o","e":4,"m":0.83,"l":0.785,"h":0.93},{"s":"o","e":5,"m":0.82,"l":0.78,"h":0.92},{"s":"o","e":6,"m":0.84,"l":0.79,"h":0.93},{"s":"o","e":8,"m":0.8,"l":0.76,"h":0.88},{"s":"o","e":10,"m":0.79,"l":0.75,"h":0.86},{"s":"o","e":12,"m":0.805,"l":0.755,"h":0.87},{"s":"o","e":14,"m":0.79,"l":0.735,"h":0.86},{"s":"o","e":16,"m":0.795,"l":0.745,"h":0.87},{"s":"o","e":18,"m":0.8,"l":0.75,"h":0.87},{"s":"o","e":20,"m":0.81,"l":0.755,"h":0.89},{"s":"o","e":22,"m":0.77,"l":0.74,"h":0.85},{"s":"o","e":24,"m":0.79,"l":0.745,"h":0.87},{"s":"o","e":26,"m":0.8,"l":0.755,"h":0.88},{"s":"o","e":28,"m":0.78,"l":0.735,"h":0.9},{"s":"o","e":30,"m":0.845,"l":0.78,"h":1.07},{"s":"o","e":32,"m":0.78,"l":0.74,"h":0.87},{"s":"o","e":34,"m":0.765,"l":0.705,"h":0.86},{"s":"o","e":36,"m":0.79,"l":0.74,"h":0.88},{"s":"o","e":38,"m":0.775,"l":0.73,"h":0.86},{"s":"o","e":40,"m":0.76,"l":0.725,"h":0.85},{"s":"o","e":42,"m":0.82,"l":0.76,"h":0.9},{"s":"o","e":44,"m":0.78,"l":0.735,"h":0.86},{"s":"o","e":46,"m":0.825,"l":0.765,"h":0.9},{"s":"o","e":48,"m":0.79,"l":0.74,"h":0.87},{"s":"o","e":50,"m":0.79,"l":0.74,"h":0.9},{"s":"o","e":52,"m":0.86,"l":0.79,"h":1.06},{"s":"o","e":54,"m":0.78,"l":0.735,"h":0.87},{"s":"o","e":56,"m":0.76,"l":0.72,"h":0.85},{"s":"o","e":58,"m":0.8,"l":0.745,"h":0.88},{"s":"o","e":60,"m":0.785,"l":0.735,"h":0.87},{"s":"o","e":62,"m":0.76,"l":0.72,"h":0.85},{"s":"o","e":64,"m":0.78,"l":0.73,"h":0.87},{"s":"o","e":66,"m":0.85,"l":0.78,"h":1.12},{"s":"o","e":68,"m":0.79,"l":0.74,"h":0.88},{"s":"o","e":70,"m":0.755,"l":0.715,"h":0.84},{"s":"o","e":72,"m":0.77,"l":0.725,"h":0.86},{"s":"o","e":74,"m":0.765,"l":0.7,"h":0.85},{"s":"o","e":76,"m":0.79,"l":0.735,"h":0.88},{"s":"o","e":78,"m":0.77,"l":0.725,"h":0.86},{"s":"o","e":80,"m":0.8,"l":0.745,"h":0.88},{"s":"o","e":82,"m":0.86,"l":0.79,"h":1.03},{"s":"o","e":84,"m":0.78,"l":0.73,"h":0.87},{"s":"o","e":86,"m":0.755,"l":0.71,"h":0.84},{"s":"o","e":88,"m":0.78,"l":0.73,"h":0.87},{"s":"o","e":90,"m":0.82,"l":0.76,"h":0.9},{"s":"o","e":92,"m":0.84,"l":0.775,"h":0.93},{"s":"o","e":94,"m":0.745,"l":0.7,"h":0.83},{"s":"o","e":96,"m":0.77,"l":0.72,"h":0.86},{"s":"o","e":98,"m":0.78,"l":0.73,"h":0.87},{"s":"o","e":100,"m":0.76,"l":0.715,"h":0.85},{"s":"o","e":102,"m":0.77,"l":0.72,"h":0.86},{"s":"o","e":104,"m":0.78,"l":0.73,"h":0.87},{"s":"o","e":106,"m":0.79,"l":0.74,"h":0.95},{"s":"o","e":107,"m":0.88,"l":0.8,"h":1.1},{"s":"o","e":108,"m":0.8,"l":0.745,"h":0.9},{"s":"o","e":110,"m":0.76,"l":0.715,"h":0.85},{"s":"o","e":112,"m":0.77,"l":0.72,"h":0.86},{"s":"o","e":114,"m":0.82,"l":0.76,"h":0.9},{"s":"o","e":116,"m":0.745,"l":0.695,"h":0.84},{"s":"o","e":118,"m":0.77,"l":0.72,"h":0.86},{"s":"o","e":120,"m":0.78,"l":0.73,"h":0.87},{"s":"o","e":122,"m":0.785,"l":0.735,"h":0.87},{"s":"o","e":124,"m":0.78,"l":0.73,"h":0.86},{"s":"o","e":125,"m":0.76,"l":0.73,"h":0.84}
]
},
"spacing": 17,
"vconcat": [
{
  "spacing": -7,
  "vconcat": [
    {"width": 700, "height": 0, "data": {"values": []}, "mark": "text",
     "title": {"text": ["This discrepancy raises an important question, especially in the context of obtained results: does the Silicon Retina’s", "performance gain come from its bio-inspired architecture, or does the fixed-rate upsampling create an \"easier\" data", "distribution for the saliency network?"], "anchor": "start", "dx": -47, "fontSize": 19.4, "lineHeight": 21.7, "color": "#000", "offset": 0}},
    {"width": 700, "height": 0, "data": {"values": []}, "mark": "text",
     "title": {"text": ["We perform the following experiment to answer that question: we fed the exact same fixed-framerate (200 FPS) input", "data used by the Silicon Retina into the DVS simulator. This effectively isolates the sensor model (DVS vs. Silicon", "Retina) as the sole difference between the generated event streams."], "anchor": "start", "dx": -47, "fontSize": 19.4, "lineHeight": 21.7, "color": "#000", "offset": 0}},
    {"width": 700, "height": 0, "data": {"values": []}, "mark": "text",
     "title": {"text": ["The convergence results are presented in Fig. 12. Curves show the mean and shaded min-max range across many", "trainings: \"DVS (Optical Flow)\" over 7 different seeds, \"DVS (Fixed 200 FPS)\" over 3 different seeds and \"Silicon", "Retina (Fixed 200 FPS)\" over 4 different model configurations. The DVS model evaluated on the fixed-framerate data", "achieves a significantly higher loss than the DVS baseline utilizing optical flow. This confirms that the fixed 200 FPS", "upsampling used by Silicon Retina model does not provide an unfair advantage for the saliency task. Silicon Retina", "(orange) achieves the lowest loss across all evaluated configurations, indicating that advantage comes from the retinal", "processing model."], "anchor": "start", "dx": -47, "fontSize": 19.4, "lineHeight": 21.7, "color": "#000", "offset": 0}}
  ]
},
{
  "spacing": 14,
  "resolve": {"scale": {"x": "independent", "y": "independent", "color": "shared", "strokeDash": "shared"}},
  "hconcat": [
    {
      "width": 420, "height": 372,
      "title": {"text": "Training Convergence", "fontSize": 15.6, "offset": 7},
      "data": {"name": "tr"},
      "transform": [{"lookup": "s", "from": {"data": {"name": "names"}, "key": "s", "fields": ["name"]}}],
      "resolve": {"axis": {"x": "independent", "y": "independent"}},
      "layer": [
        {"transform": [{"filter": "datum.s == 'g'"}], "mark": {"type": "area", "opacity": 0.3},
         "encoding": {
           "x": {"field": "e", "type": "quantitative", "scale": {"domain": [-8.95, 209.95], "nice": false, "zero": false},
                 "axis": {"orient": "bottom", "values": [0, 25, 50, 75, 100, 125, 150, 175, 200], "tickSize": -6, "labelPadding": 11, "title": "Epochs", "titlePadding": 6, "grid": true}},
           "y": {"field": "l", "type": "quantitative", "scale": {"domain": [0.661, 1.246], "nice": false, "zero": false},
                 "axis": {"orient": "left", "values": [0.7, 0.8, 0.9, 1.0, 1.1, 1.2], "format": ".1f", "tickSize": -6, "labelPadding": 13, "title": "Saliency Loss (KL + CC)", "titlePadding": 6, "grid": true}},
           "y2": {"field": "h"},
           "color": {"field": "name", "type": "nominal", "legend": {"title": null},
                     "scale": {"domain": ["DVS (Fixed 200 FPS)", "DVS (Optical Flow)", "Silicon Retina (Fixed 200 FPS)"], "range": ["#7b7b7b", "#1f77b4", "#ffa040"]}}
         }},
        {"transform": [{"filter": "datum.s == 'g'"}], "mark": {"type": "line", "strokeWidth": 2.5},
         "encoding": {
           "x": {"field": "e", "type": "quantitative", "axis": {"orient": "top", "values": [0, 25, 50, 75, 100, 125, 150, 175, 200], "tickSize": -6, "labels": false, "title": null, "grid": false}},
           "y": {"field": "m", "type": "quantitative", "axis": {"orient": "right", "values": [0.7, 0.8, 0.9, 1.0, 1.1, 1.2], "tickSize": -6, "labels": false, "title": null, "grid": false}},
           "color": {"field": "name", "type": "nominal", "legend": {"title": null}},
           "strokeDash": {"field": "name", "type": "nominal", "legend": {"title": null},
                          "scale": {"domain": ["DVS (Fixed 200 FPS)", "DVS (Optical Flow)", "Silicon Retina (Fixed 200 FPS)"], "range": [[1, 0], [9, 4], [2.5, 4]]}}
         }},
        {"transform": [{"filter": "datum.s == 'b'"}], "mark": {"type": "area", "opacity": 0.22},
         "encoding": {
           "x": {"field": "e", "type": "quantitative", "axis": {"orient": "bottom", "values": [-5, 0, 5, 10, 15, 20, 25, 30, 35, 40, 45, 50, 55, 60, 65, 70, 75, 80, 85, 90, 95, 100, 105, 110, 115, 120, 125, 130, 135, 140, 145, 150, 155, 160, 165, 170, 175, 180, 185, 190, 195, 200, 205], "tickSize": -3, "labels": false, "title": null, "grid": false, "domain": false}},
           "y": {"field": "l", "type": "quantitative", "axis": {"orient": "left", "values": [0.68, 0.7, 0.72, 0.74, 0.76, 0.78, 0.8, 0.82, 0.84, 0.86, 0.88, 0.9, 0.92, 0.94, 0.96, 0.98, 1.0, 1.02, 1.04, 1.06, 1.08, 1.1, 1.12, 1.14, 1.16, 1.18, 1.2, 1.22, 1.24], "tickSize": -3, "labels": false, "title": null, "grid": false, "domain": false}},
           "y2": {"field": "h"},
           "color": {"field": "name", "type": "nominal", "legend": {"title": null}}
         }},
        {"transform": [{"filter": "datum.s == 'b'"}], "mark": {"type": "line", "strokeWidth": 2.5},
         "encoding": {
           "x": {"field": "e", "type": "quantitative", "axis": {"orient": "top", "values": [-5, 0, 5, 10, 15, 20, 25, 30, 35, 40, 45, 50, 55, 60, 65, 70, 75, 80, 85, 90, 95, 100, 105, 110, 115, 120, 125, 130, 135, 140, 145, 150, 155, 160, 165, 170, 175, 180, 185, 190, 195, 200, 205], "tickSize": -3, "labels": false, "title": null, "grid": false, "domain": false}},
           "y": {"field": "m", "type": "quantitative", "axis": {"orient": "right", "values": [0.68, 0.7, 0.72, 0.74, 0.76, 0.78, 0.8, 0.82, 0.84, 0.86, 0.88, 0.9, 0.92, 0.94, 0.96, 0.98, 1.0, 1.02, 1.04, 1.06, 1.08, 1.1, 1.12, 1.14, 1.16, 1.18, 1.2, 1.22, 1.24], "tickSize": -3, "labels": false, "title": null, "grid": false, "domain": false}},
           "color": {"field": "name", "type": "nominal", "legend": {"title": null}},
           "strokeDash": {"field": "name", "type": "nominal", "legend": {"title": null}}
         }},
        {"transform": [{"filter": "datum.s == 'o'"}], "mark": {"type": "area", "opacity": 0.22},
         "encoding": {
           "x": {"field": "e", "type": "quantitative", "axis": null},
           "y": {"field": "l", "type": "quantitative", "axis": null},
           "y2": {"field": "h"},
           "color": {"field": "name", "type": "nominal", "legend": {"title": null}}
         }},
        {"transform": [{"filter": "datum.s == 'o'"}], "mark": {"type": "line", "strokeWidth": 2.5},
         "encoding": {
           "x": {"field": "e", "type": "quantitative", "axis": null},
           "y": {"field": "m", "type": "quantitative", "axis": null},
           "color": {"field": "name", "type": "nominal", "legend": {"title": null}},
           "strokeDash": {"field": "name", "type": "nominal", "legend": {"title": null}}
         }}
      ]
    },
    {
      "width": 424, "height": 372,
      "title": {"text": "Validation Convergence", "fontSize": 15.6, "offset": 4},
      "data": {"name": "va"},
      "transform": [{"lookup": "s", "from": {"data": {"name": "names"}, "key": "s", "fields": ["name"]}}],
      "resolve": {"axis": {"x": "independent", "y": "independent"}},
      "layer": [
        {"transform": [{"filter": "datum.s == 'g'"}], "mark": {"type": "area", "opacity": 0.3},
         "encoding": {
           "x": {"field": "e", "type": "quantitative", "scale": {"domain": [-8.95, 209.95], "nice": false, "zero": false},
                 "axis": {"orient": "bottom", "values": [0, 25, 50, 75, 100, 125, 150, 175, 200], "tickSize": -6, "labelPadding": 11, "title": "Epochs", "titlePadding": 6, "grid": true}},
           "y": {"field": "l", "type": "quantitative", "scale": {"domain": [0.661, 1.306], "nice": false, "zero": false},
                 "axis": {"orient": "left", "values": [0.7, 0.8, 0.9, 1.0, 1.1, 1.2, 1.3], "format": ".1f", "tickSize": -6, "labelPadding": 14, "title": null, "grid": true}},
           "y2": {"field": "h"},
           "color": {"field": "name", "type": "nominal", "legend": {"title": null}}
         }},
        {"transform": [{"filter": "datum.s == 'g'"}], "mark": {"type": "line", "strokeWidth": 2.5},
         "encoding": {
           "x": {"field": "e", "type": "quantitative", "axis": {"orient": "top", "values": [0, 25, 50, 75, 100, 125, 150, 175, 200], "tickSize": -6, "labels": false, "title": null, "grid": false}},
           "y": {"field": "m", "type": "quantitative", "axis": {"orient": "right", "values": [0.7, 0.8, 0.9, 1.0, 1.1, 1.2, 1.3], "tickSize": -6, "labels": false, "title": null, "grid": false}},
           "color": {"field": "name", "type": "nominal", "legend": {"title": null}},
           "strokeDash": {"field": "name", "type": "nominal", "legend": {"title": null}}
         }},
        {"transform": [{"filter": "datum.s == 'b'"}], "mark": {"type": "area", "opacity": 0.22},
         "encoding": {
           "x": {"field": "e", "type": "quantitative", "axis": {"orient": "bottom", "values": [-5, 0, 5, 10, 15, 20, 25, 30, 35, 40, 45, 50, 55, 60, 65, 70, 75, 80, 85, 90, 95, 100, 105, 110, 115, 120, 125, 130, 135, 140, 145, 150, 155, 160, 165, 170, 175, 180, 185, 190, 195, 200, 205], "tickSize": -3, "labels": false, "title": null, "grid": false, "domain": false}},
           "y": {"field": "l", "type": "quantitative", "axis": {"orient": "left", "values": [0.68, 0.7, 0.72, 0.74, 0.76, 0.78, 0.8, 0.82, 0.84, 0.86, 0.88, 0.9, 0.92, 0.94, 0.96, 0.98, 1.0, 1.02, 1.04, 1.06, 1.08, 1.1, 1.12, 1.14, 1.16, 1.18, 1.2, 1.22, 1.24, 1.26, 1.28, 1.3], "tickSize": -3, "labels": false, "title": null, "grid": false, "domain": false}},
           "y2": {"field": "h"},
           "color": {"field": "name", "type": "nominal", "legend": {"title": null}}
         }},
        {"transform": [{"filter": "datum.s == 'b'"}], "mark": {"type": "line", "strokeWidth": 2.5},
         "encoding": {
           "x": {"field": "e", "type": "quantitative", "axis": {"orient": "top", "values": [-5, 0, 5, 10, 15, 20, 25, 30, 35, 40, 45, 50, 55, 60, 65, 70, 75, 80, 85, 90, 95, 100, 105, 110, 115, 120, 125, 130, 135, 140, 145, 150, 155, 160, 165, 170, 175, 180, 185, 190, 195, 200, 205], "tickSize": -3, "labels": false, "title": null, "grid": false, "domain": false}},
           "y": {"field": "m", "type": "quantitative", "axis": {"orient": "right", "values": [0.68, 0.7, 0.72, 0.74, 0.76, 0.78, 0.8, 0.82, 0.84, 0.86, 0.88, 0.9, 0.92, 0.94, 0.96, 0.98, 1.0, 1.02, 1.04, 1.06, 1.08, 1.1, 1.12, 1.14, 1.16, 1.18, 1.2, 1.22, 1.24, 1.26, 1.28, 1.3], "tickSize": -3, "labels": false, "title": null, "grid": false, "domain": false}},
           "color": {"field": "name", "type": "nominal", "legend": {"title": null}},
           "strokeDash": {"field": "name", "type": "nominal", "legend": {"title": null}}
         }},
        {"transform": [{"filter": "datum.s == 'o'"}], "mark": {"type": "area", "opacity": 0.22},
         "encoding": {
           "x": {"field": "e", "type": "quantitative", "axis": null},
           "y": {"field": "l", "type": "quantitative", "axis": null},
           "y2": {"field": "h"},
           "color": {"field": "name", "type": "nominal", "legend": {"title": null}}
         }},
        {"transform": [{"filter": "datum.s == 'o'"}], "mark": {"type": "line", "strokeWidth": 2.5},
         "encoding": {
           "x": {"field": "e", "type": "quantitative", "axis": null},
           "y": {"field": "m", "type": "quantitative", "axis": null},
           "color": {"field": "name", "type": "nominal", "legend": {"title": null}},
           "strokeDash": {"field": "name", "type": "nominal", "legend": {"title": null}}
         }}
      ]
    }
  ]
}
]
}
